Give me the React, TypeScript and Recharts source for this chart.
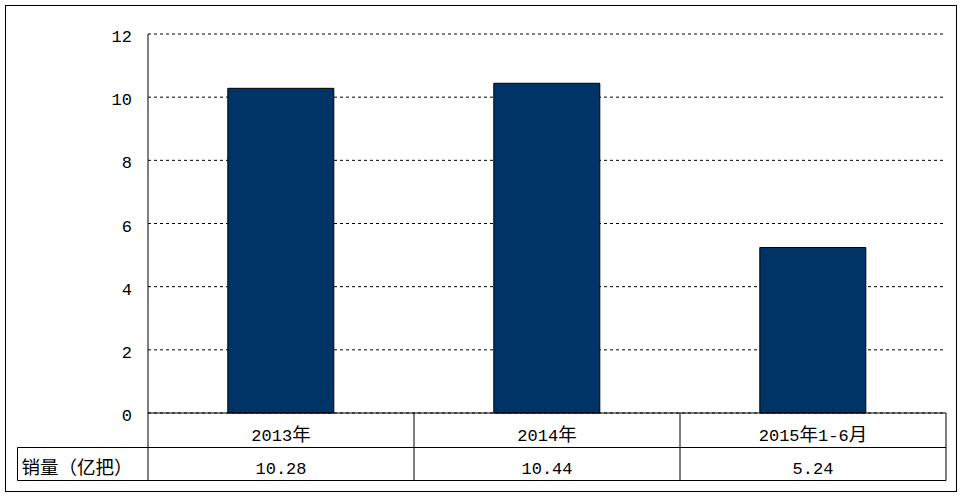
import React from 'react';
import { BarChart, Bar, XAxis, YAxis, CartesianGrid } from 'recharts';

const categories = ['2013年', '2014年', '2015年1-6月'];
const sales = [10.28, 10.44, 5.24];
const salesLabels = ['10.28', '10.44', '5.24'];
const yTicks = [0, 2, 4, 6, 8, 10, 12];
const rowHeader = '销量（亿把）';

const data = categories.map((c, i) => ({ name: c, value: sales[i], label: salesLabels[i] }));

const W = 964;
const H = 498;
const M = { top: 34, right: 18, left: 0, bottom: 0 };
const YW = 148;
const XH = 85;
const PLOT_LEFT = M.left + YW;
const PLOT_RIGHT = W - M.right;
const BAND = (PLOT_RIGHT - PLOT_LEFT) / categories.length;
const ROW1 = 34.5;
const ROW2 = 33;
const TABLE_LEFT = 17.5;

const ASCII_FONT = "'Liberation Mono', monospace";
const CJK_FONT = "'Noto Sans CJK SC', sans-serif";

function MixedText({ x, y, text, anchor }: { x: number; y: number; text: string; anchor: 'start' | 'middle' | 'end' }) {
  const runs = text.match(/[\x00-\x7f]+|[^\x00-\x7f]+/g) || [];
  return (
    <text x={x} y={y} textAnchor={anchor} fill="#000">
      {runs.map((r, i) => {
        const ascii = /^[\x00-\x7f]+$/.test(r);
        return (
          <tspan key={i} fontFamily={ascii ? ASCII_FONT : CJK_FONT} fontSize={ascii ? 17 : 18.5}>
            {r}
          </tspan>
        );
      })}
    </text>
  );
}

const TableTick = (props: any) => {
  const { x, y, index, payload } = props;
  const left = x - BAND / 2;
  const right = x + BAND / 2;
  const y0 = y;
  const y1 = y0 + ROW1;
  const y2 = y1 + ROW2;
  const ls = { stroke: '#000', strokeWidth: 1 };
  return (
    <g>
      {index === 0 && (
        <g>
          <line x1={TABLE_LEFT} y1={y1} x2={PLOT_RIGHT} y2={y1} {...ls} />
          <line x1={TABLE_LEFT} y1={y2} x2={PLOT_RIGHT} y2={y2} {...ls} />
          <line x1={TABLE_LEFT} y1={y1} x2={TABLE_LEFT} y2={y2} {...ls} />
          <line x1={left} y1={y0} x2={left} y2={y2} {...ls} />
          <MixedText x={TABLE_LEFT + 4} y={y2 - 7} text={rowHeader} anchor="start" />
        </g>
      )}
      <line x1={right} y1={y0} x2={right} y2={y2} {...ls} />
      <MixedText x={x} y={y1 - 7} text={payload.value} anchor="middle" />
      <MixedText x={x} y={y2 - 7} text={data[index].label} anchor="middle" />
    </g>
  );
};

export default function App() {
  return (
    <div style={{ position: 'absolute', left: 0, top: 0, width: W, height: H, background: '#fff' }}>
      <div
        style={{
          position: 'absolute',
          left: 5,
          top: 5,
          width: 952,
          height: 487,
          border: '1px solid #000',
          boxSizing: 'border-box',
        }}
      />
      <div style={{ position: 'absolute', left: 0, top: 0 }}>
        <BarChart width={W} height={H} data={data} margin={M} barCategoryGap="30%">
          <CartesianGrid vertical={false} stroke="#000" strokeDasharray="3 3" />
          <YAxis
            width={YW}
            domain={[0, 12]}
            ticks={yTicks}
            interval={0}
            axisLine={{ stroke: '#000' }}
            tickLine={false}
            tickSize={6}
            tickMargin={10}
            tick={{ fill: '#000', fontSize: 17, fontFamily: ASCII_FONT, dy: 2 }}
          />
          <XAxis
            dataKey="name"
            height={XH}
            interval={0}
            axisLine={{ stroke: '#000' }}
            tickLine={false}
            tickSize={0}
            tickMargin={0}
            tick={<TableTick />}
          />
          <Bar dataKey="value" fill="#003366" stroke="#000" strokeWidth={1} isAnimationActive={false} />
        </BarChart>
      </div>
    </div>
  );
}
